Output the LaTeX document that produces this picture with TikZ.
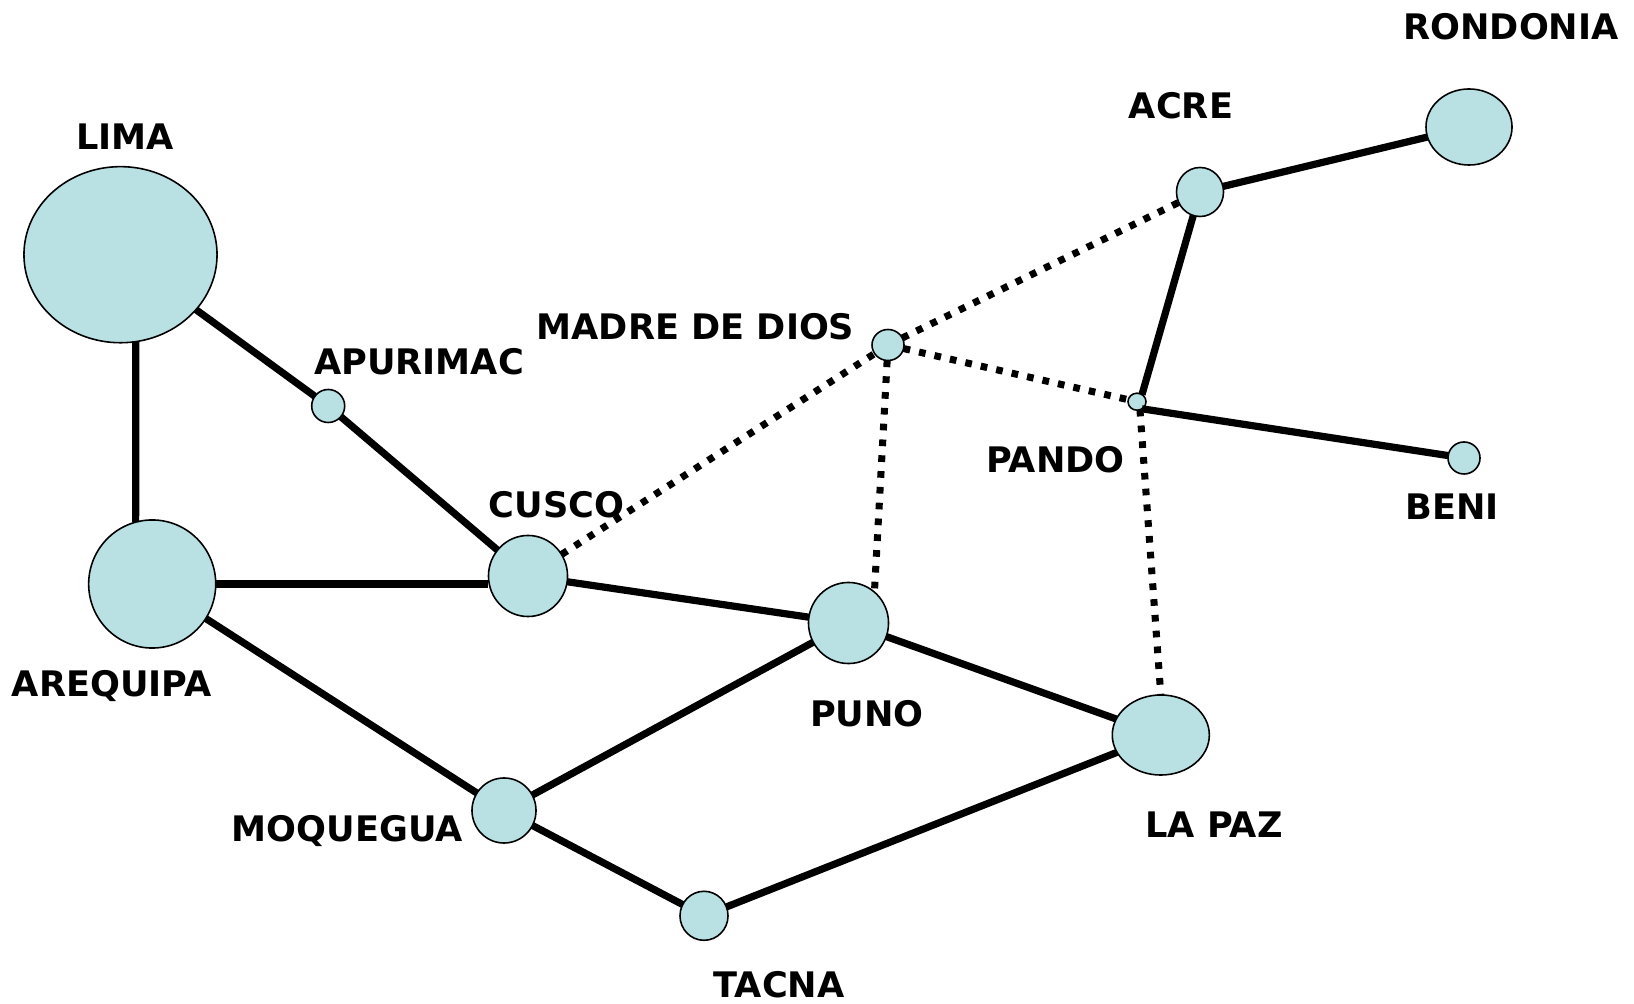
\documentclass[tikz,border=0pt]{standalone}
\usepackage{fontspec}
\setmainfont{DejaVu Sans}
\usepackage{tikz}
\usetikzlibrary{shapes.geometric}
\definecolor{townfill}{RGB}{185,224,227}

\begin{document}
\begin{tikzpicture}[x=0.01cm,y=-0.01cm,
		town/.style={ellipse,draw=black,line width=0.45pt,fill=townfill,inner sep=0pt,outer sep=0pt},
		road/.style={line width=2.05pt},
		track/.style={line width=2pt,dash pattern=on 1.9pt off 2.6pt},
		townname/.style={anchor=base,inner sep=0pt,font=\fontsize{10}{12}\selectfont\bfseries}]
		\useasboundingbox (0,0) rectangle (1634,1004);

		% >>> towns
		\node[town,minimum width=1.93cm,minimum height=1.76cm] (lima) at (120.5,254.7) {};
		\node[town,minimum width=1.27cm,minimum height=1.28cm] (arequipa) at (152.2,584) {};
		\node[town,minimum width=0.33cm,minimum height=0.33cm] (apurimac) at (328.2,406) {};
		\node[town,minimum width=0.79cm,minimum height=0.81cm] (cusco) at (528,576) {};
		\node[town,minimum width=0.80cm,minimum height=0.81cm] (puno) at (848.5,623) {};
		\node[town,minimum width=0.64cm,minimum height=0.65cm] (moquegua) at (504,810.5) {};
		\node[town,minimum width=0.48cm,minimum height=0.49cm] (tacna) at (704,915.8) {};
		\node[town,minimum width=0.97cm,minimum height=0.80cm] (lapaz) at (1160.8,735) {};
		\node[town,minimum width=0.32cm,minimum height=0.31cm] (madre) at (888,345) {};
		\node[town,minimum width=0.18cm,minimum height=0.17cm] (pando) at (1137,401.7) {};
		\node[town,minimum width=0.47cm,minimum height=0.49cm] (acre) at (1200,192) {};
		\node[town,minimum width=0.86cm,minimum height=0.76cm] (rondonia) at (1469,127) {};
		\node[town,minimum width=0.32cm,minimum height=0.32cm] (beni) at (1464,458) {};
		% <<< towns

		% >>> names
		\node[townname] (limaname) at (125,150) {LIMA};
		\node[townname] (apurimacname) at (419,375) {APURIMAC};
		\node[townname] (cusconame) at (556.6,518) {CUSCO};
		\node[townname] (arequipaname) at (111.7,696) {AREQUIPA};
		\node[townname] (madrename) at (695.5,339.3) {MADRE DE DIOS};
		\node[townname] (punoname) at (866.9,726) {PUNO};
		\node[townname] (moqueguaname) at (347.3,841.5) {MOQUEGUA};
		\node[townname] (tacnaname) at (779,997.3) {TACNA};
		\node[townname] (lapazname) at (1214,837.7) {LA PAZ};
		\node[townname] (pandoname) at (1055.4,473) {PANDO};
		\node[townname] (beniname) at (1452.3,520) {BENI};
		\node[townname] (acrename) at (1181,119) {ACRE};
		\node[townname] (rondonianame) at (1511,39.6) {RONDONIA};
		% <<< names

		% >>> roads
		\draw[road] (lima.-80) -- (arequipa.105);
		\draw[road] (lima) -- (apurimac) -- (cusco);
		\draw[road] (arequipa) -- (arequipa -| cusco.west);
		\draw[road] (arequipa) -- (moquegua);
		\draw[road] (cusco) -- (puno);
		\draw[road] (moquegua) -- (puno);
		\draw[road] (moquegua) -- (tacna);
		\draw[road] (tacna) -- (lapaz);
		\draw[road] (puno) -- (lapaz);
		\draw[road] (acre) -- (rondonia);
		\draw[road] (acre) -- (pando.55);
		\draw[road] (pando.-55) -- (beni);
		% <<< roads

		% >>> tracks
		\draw[track] (cusco) -- (madre);
		\draw[track] (madre) -- (acre);
		\draw[track] (madre) -- (pando);
		\draw[track] (madre) -- (puno.50);
		\draw[track] (pando.-70) -- (lapaz.north);
		% <<< tracks
	\end{tikzpicture}
\end{document}
